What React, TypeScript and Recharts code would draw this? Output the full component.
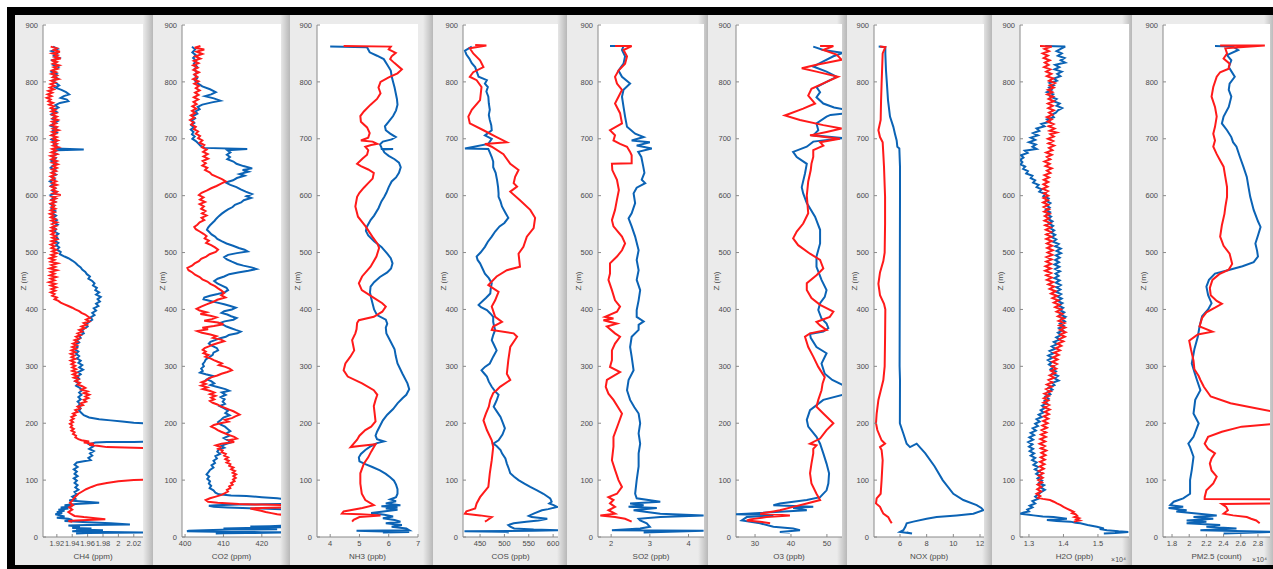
import { ScatterChart, Scatter, XAxis, YAxis, Label } from 'recharts'

// each profile is a list of [value, altitude z (m)]
const zTicks = [0, 100, 200, 300, 400, 500, 600, 700, 800, 900]

const ch4Ticks = [1.92, 1.94, 1.96, 1.98, 2, 2.02]
const co2Ticks = [400, 410, 420]
const nh3Ticks = [4, 5, 6, 7]
const cosTicks = [450, 500, 550, 600]
const so2Ticks = [2, 3, 4]
const o3Ticks = [30, 40, 50]
const noxTicks = [6, 8, 10, 12]
const h2oTicks = [1.3, 1.4, 1.5]
const pmTicks = [1.8, 2, 2.2, 2.4, 2.6, 2.8]

const ch4Blue = [[1.915,862],[1.921,858],[1.913,854],[1.92,850],[1.916,846],[1.923,842],[1.914,838],[1.919,834],[1.915,830],[1.922,826],[1.917,822],[1.913,818],[1.92,814],[1.916,810],[1.921,806],[1.914,802],[1.919,798],[1.923,794],[1.918,790],[1.926,786],[1.932,782],[1.936,778],[1.929,775],[1.925,772],[1.933,769],[1.935,766],[1.924,763],[1.918,759],[1.922,755],[1.915,751],[1.92,747],[1.913,743],[1.918,739],[1.914,735],[1.921,731],[1.916,727],[1.912,723],[1.919,719],[1.915,715],[1.92,711],[1.914,707],[1.918,703],[1.913,699],[1.919,695],[1.916,691],[1.92,687],[1.918,683],[1.955,681],[1.921,680],[1.915,677],[1.92,673],[1.914,669],[1.918,665],[1.913,661],[1.919,657],[1.915,653],[1.912,649],[1.918,645],[1.914,641],[1.919,637],[1.913,633],[1.917,629],[1.911,625],[1.916,621],[1.912,617],[1.918,613],[1.914,609],[1.919,605],[1.912,601],[1.917,597],[1.913,593],[1.918,589],[1.912,585],[1.916,581],[1.913,577],[1.918,573],[1.914,569],[1.919,565],[1.915,561],[1.92,557],[1.916,553],[1.921,549],[1.915,545],[1.919,541],[1.917,537],[1.922,533],[1.918,529],[1.921,525],[1.917,521],[1.922,517],[1.919,513],[1.923,509],[1.92,505],[1.925,501],[1.924,497],[1.93,493],[1.935,490],[1.94,486],[1.944,482],[1.947,478],[1.951,474],[1.953,470],[1.957,466],[1.959,462],[1.963,458],[1.961,454],[1.966,450],[1.969,446],[1.967,442],[1.972,438],[1.97,434],[1.975,430],[1.971,426],[1.977,422],[1.973,418],[1.976,414],[1.971,410],[1.974,406],[1.968,402],[1.971,398],[1.966,394],[1.969,390],[1.964,386],[1.966,382],[1.962,378],[1.958,374],[1.96,370],[1.955,366],[1.953,362],[1.955,358],[1.949,354],[1.951,350],[1.946,346],[1.949,342],[1.944,338],[1.947,334],[1.943,330],[1.948,326],[1.945,322],[1.949,318],[1.946,314],[1.951,310],[1.948,306],[1.953,302],[1.949,298],[1.954,294],[1.948,290],[1.951,286],[1.946,282],[1.949,278],[1.944,274],[1.948,270],[1.945,266],[1.95,262],[1.953,258],[1.949,254],[1.952,250],[1.948,246],[1.951,242],[1.947,238],[1.95,234],[1.948,230],[1.951,226],[1.949,222],[1.952,218],[1.955,214],[1.962,210],[1.975,207],[1.99,205],[2.005,203],[2.02,201],[2.04,199],[2.04,168],[2.02,167],[2,167],[1.985,167],[1.97,166],[1.962,163],[1.967,159],[1.962,155],[1.968,151],[1.963,147],[1.966,143],[1.961,139],[1.964,135],[1.955,133],[1.946,131],[1.943,127],[1.947,123],[1.942,119],[1.946,115],[1.943,111],[1.947,107],[1.942,103],[1.946,99],[1.943,95],[1.947,91],[1.944,87],[1.948,83],[1.943,79],[1.946,75],[1.94,71],[1.944,67],[1.936,64],[1.958,62],[1.975,60],[1.945,58],[1.93,56],[1.94,54],[1.925,52],[1.935,50],[1.922,48],[1.93,46],[1.92,44],[1.927,42],[1.918,40],[1.924,38],[1.93,36],[1.92,34],[1.935,32],[1.94,30],[1.93,28],[1.96,26],[1.99,24],[2.015,22],[1.96,21],[1.935,20],[1.95,18],[1.94,16],[1.965,15],[1.945,13],[1.98,12],[1.95,11],[1.94,10],[1.985,9],[2.035,8],[1.96,7],[1.945,6]]
const ch4Red = [[1.912,862],[1.92,859],[1.916,856],[1.924,853],[1.914,850],[1.921,847],[1.917,844],[1.925,841],[1.913,838],[1.92,835],[1.915,832],[1.923,829],[1.916,826],[1.921,823],[1.914,820],[1.919,817],[1.913,814],[1.92,811],[1.915,808],[1.922,805],[1.913,802],[1.918,799],[1.912,796],[1.917,793],[1.911,790],[1.916,787],[1.909,784],[1.914,781],[1.908,778],[1.913,775],[1.907,772],[1.912,769],[1.909,766],[1.915,763],[1.91,760],[1.916,757],[1.912,754],[1.918,751],[1.913,748],[1.919,745],[1.914,742],[1.92,739],[1.915,736],[1.921,733],[1.914,730],[1.919,727],[1.913,724],[1.92,721],[1.915,718],[1.922,715],[1.914,712],[1.919,709],[1.913,706],[1.92,703],[1.915,700],[1.921,697],[1.914,694],[1.92,691],[1.915,688],[1.922,685],[1.914,682],[1.919,679],[1.913,676],[1.92,673],[1.912,670],[1.918,667],[1.913,664],[1.92,661],[1.914,658],[1.921,655],[1.915,652],[1.92,649],[1.914,646],[1.919,643],[1.913,640],[1.918,637],[1.912,634],[1.917,631],[1.913,628],[1.919,625],[1.914,622],[1.92,619],[1.913,616],[1.918,613],[1.914,610],[1.92,607],[1.915,604],[1.925,601],[1.914,598],[1.919,595],[1.913,592],[1.918,589],[1.912,586],[1.917,583],[1.913,580],[1.918,577],[1.912,574],[1.917,571],[1.911,568],[1.916,565],[1.912,562],[1.918,559],[1.913,556],[1.92,553],[1.914,550],[1.919,547],[1.913,544],[1.918,541],[1.912,538],[1.917,535],[1.913,532],[1.919,529],[1.914,526],[1.92,523],[1.913,520],[1.918,517],[1.912,514],[1.917,511],[1.913,508],[1.919,505],[1.914,502],[1.92,499],[1.913,496],[1.918,493],[1.911,490],[1.917,487],[1.912,484],[1.921,481],[1.913,478],[1.918,475],[1.911,472],[1.92,469],[1.912,466],[1.917,463],[1.911,460],[1.919,457],[1.912,454],[1.917,451],[1.91,448],[1.918,445],[1.912,442],[1.919,439],[1.913,436],[1.918,433],[1.912,430],[1.917,427],[1.914,424],[1.92,421],[1.917,418],[1.922,415],[1.925,412],[1.93,409],[1.935,406],[1.94,403],[1.944,400],[1.949,397],[1.952,394],[1.957,391],[1.96,388],[1.963,385],[1.958,382],[1.962,379],[1.955,376],[1.959,373],[1.952,370],[1.956,367],[1.949,364],[1.953,361],[1.947,358],[1.951,355],[1.945,352],[1.949,349],[1.943,346],[1.947,343],[1.941,340],[1.946,337],[1.94,334],[1.945,331],[1.939,328],[1.944,325],[1.938,322],[1.943,319],[1.939,316],[1.944,313],[1.938,310],[1.943,307],[1.939,304],[1.944,301],[1.94,298],[1.945,295],[1.94,292],[1.946,289],[1.941,286],[1.947,283],[1.942,280],[1.948,277],[1.944,274],[1.95,271],[1.947,268],[1.953,265],[1.957,262],[1.952,259],[1.96,256],[1.955,253],[1.962,250],[1.957,247],[1.961,244],[1.955,241],[1.958,238],[1.951,235],[1.954,232],[1.947,229],[1.95,226],[1.944,223],[1.947,220],[1.941,217],[1.944,214],[1.939,211],[1.942,208],[1.938,205],[1.941,202],[1.937,199],[1.94,196],[1.938,193],[1.942,190],[1.939,187],[1.943,184],[1.941,181],[1.945,178],[1.944,175],[1.948,172],[1.952,170],[1.962,168],[1.955,166],[1.968,164],[1.962,162],[1.975,160],[1.985,158],[2.04,156],[2.04,101],[2.02,100],[2,98],[1.985,95],[1.973,92],[1.965,88],[1.958,84],[1.953,80],[1.948,76],[1.945,72],[1.942,68],[1.94,64],[1.937,60],[1.941,56],[1.936,52],[1.94,48],[1.935,44],[1.939,40],[1.943,37],[1.955,35],[1.97,33],[1.983,31],[1.96,30],[1.945,29],[1.935,28],[1.94,27]]

const co2Blue = [[401.8,862],[402.6,857],[401.9,852],[402.8,847],[402.1,842],[402.9,837],[402.3,832],[403.1,827],[402.4,822],[403,817],[402.5,812],[403.2,807],[402.6,802],[403.4,797],[404.5,792],[406.5,787],[408,782],[406.8,778],[405.2,775],[407.5,771],[409.2,767],[407,764],[404.5,760],[403.3,756],[403.8,752],[402.7,748],[403.2,744],[402,740],[402.6,736],[401.7,732],[402.4,728],[401.6,724],[402.3,720],[401.5,716],[402.2,712],[401.8,708],[402.5,704],[401.9,700],[402.8,696],[403.4,692],[404,688],[405,684],[416.2,682],[411,680],[411.8,676],[410.9,672],[411.7,668],[411,664],[412.6,660],[413.4,656],[415.2,652],[417.5,648],[415,645],[416.5,642],[414.2,638],[415.5,635],[413.5,631],[412.5,627],[410.6,623],[411.8,619],[413.4,615],[414.5,611],[415.8,607],[417.4,603],[416,599],[417.2,596],[415.3,592],[414.6,588],[413,584],[412.4,580],[411.2,576],[410.3,572],[409.5,568],[408.8,564],[408.2,560],[407.7,556],[407.1,552],[406.5,548],[406,544],[405.7,540],[406.3,536],[406.9,532],[407.8,528],[408.4,524],[409.5,520],[410.8,516],[412.5,512],[414,508],[415.5,505],[416.3,502],[413.5,499],[411.2,496],[410.2,492],[410.9,488],[412.2,484],[413.6,480],[415.2,477],[417.3,474],[418.6,471],[416.5,468],[413.8,465],[411.5,462],[410.2,458],[408.5,454],[407.6,450],[408.4,446],[409.6,442],[410.8,438],[411.2,434],[410.3,430],[408.5,427],[406.5,424],[405,421],[404.8,418],[406.6,415],[408.4,412],[410.2,409],[411.8,406],[413.2,403],[412.2,400],[410.2,397],[409.5,394],[411,391],[412,388],[413.4,385],[412.6,382],[410.3,379],[409,376],[410,373],[410.8,370],[412,367],[413.2,364],[414.5,361],[413.6,358],[411.4,355],[410.6,352],[408.9,349],[407.8,346],[406.6,343],[406.2,340],[407.1,336],[408.3,332],[408.6,328],[407.4,324],[407.2,320],[406.3,316],[405.4,312],[405.1,308],[404.6,304],[404.9,300],[404.2,296],[404.6,292],[403.9,289],[405.4,286],[407.2,283],[406.5,280],[405.7,277],[406.8,274],[407.6,270],[406.6,267],[408.2,264],[410.5,260],[411.5,257],[409.6,254],[410.6,250],[409.3,246],[410.3,242],[409.8,238],[410.4,234],[409,230],[410.2,226],[411.2,222],[410.5,218],[411.6,214],[410,210],[409.4,206],[408.6,202],[409.2,198],[410.4,194],[411.1,190],[411.8,186],[410.8,182],[411.5,178],[410.1,174],[411.2,170],[411.8,166],[410.4,163],[409.4,160],[410.2,157],[408.8,154],[408.4,150],[409.1,146],[407.9,142],[408.3,138],[407.4,134],[407.8,130],[406.9,126],[407.4,122],[406.5,118],[406.1,114],[405.6,110],[406.3,106],[405.8,102],[406.5,98],[406.2,94],[406.8,90],[406.4,86],[407.4,82],[407.9,78],[408.8,75],[412,73],[416,72],[420,70],[424,68],[427,66],[427,58],[421,57.5],[414,57],[408,56],[406.2,55],[407.5,53],[411,52],[415,51],[420,50],[427,48],[427,20],[422,19],[417,18.5],[425,17],[416,16],[410,15],[418,14],[424,13.5],[412,13],[405,12],[401,11],[400.5,10],[404,9.5],[412,9],[420,8.5],[427,8],[416,7],[410,6.5],[408,6]]
const co2Red = [[404,863],[402.5,860],[405,857],[403,853],[404.5,849],[402.7,845],[404,841],[402.3,837],[403.5,833],[402.1,829],[403.3,825],[402.2,821],[403.6,817],[402.4,813],[403.2,809],[402.1,805],[403.5,801],[402.4,797],[403.6,793],[402.8,789],[403.8,785],[402.6,781],[403.5,777],[402.3,773],[403.4,769],[402.2,765],[403,761],[401.9,757],[402.9,753],[401.8,749],[402.6,745],[401.5,741],[402.4,737],[401.3,733],[402.2,729],[401.6,725],[402.8,721],[402.3,717],[403.4,713],[402.8,709],[403.9,705],[403.4,701],[404.5,697],[403.8,693],[405,689],[404.4,685],[405.6,681],[404.7,677],[405.9,673],[404.8,669],[406,665],[404.6,661],[405.4,657],[404.5,653],[405.8,649],[405.2,645],[406.4,641],[407,637],[408.3,633],[409.6,629],[410.6,625],[409.4,621],[408.2,617],[406.8,613],[405.6,609],[404.3,605],[403.6,601],[404.8,597],[403.9,593],[405.2,589],[403.8,585],[404.9,581],[404.2,577],[405.3,573],[404.4,569],[405.6,565],[404.3,561],[405,557],[403.8,553],[403.2,549],[402.4,545],[402.8,541],[403.8,537],[404.8,533],[405.6,529],[405.1,525],[406.2,521],[405.5,517],[406.8,513],[407.8,509],[408.6,505],[408,501],[406.4,497],[405.5,493],[404.2,489],[403.6,485],[402.5,481],[401.8,477],[400.6,473],[400.9,469],[401.9,465],[402.6,461],[403.8,457],[404.5,453],[405.8,449],[406.6,445],[407.8,441],[408.6,437],[409.5,433],[410.2,429],[409.4,425],[410.5,421],[408.4,417],[407.2,413],[405.6,409],[404.2,405],[403,401],[403.8,398],[405.6,395],[404,392],[406.6,389],[408.2,386],[407,383],[405,380],[408.6,377],[410,374],[407.5,371],[404.5,368],[406,365],[403.2,362],[404.4,359],[406.6,356],[408.2,353],[407.3,350],[409.4,347],[410.2,344],[408.6,341],[407.2,338],[406.2,335],[405.1,332],[404.6,329],[405.4,326],[404.8,323],[406.1,320],[405.3,317],[406.6,314],[407.5,311],[408.5,308],[409.6,305],[408.8,302],[410.5,299],[411.6,296],[412.2,293],[411,290],[409.5,287],[408.4,284],[407,281],[406,278],[405.5,275],[404.3,272],[405.4,269],[404.2,266],[405.8,263],[404.6,260],[406.4,257],[407.6,254],[406.5,251],[407.9,248],[406.8,245],[407.6,242],[406.5,239],[407.2,236],[408.4,233],[409.2,230],[410.4,227],[411.5,224],[412.6,221],[413.4,218],[414.2,215],[413.1,212],[412.2,209],[410.4,206],[411.3,203],[409.2,200],[407.5,197],[406.8,194],[407.8,191],[408.5,188],[409.4,185],[410.5,182],[411.6,179],[412.8,176],[413.5,173],[411.5,170],[412.8,167],[409.5,164],[408,161],[409.2,158],[408.6,155],[409.8,152],[409.5,149],[410.6,146],[410.2,143],[411.2,140],[410.5,137],[411.4,134],[410.8,131],[411.8,128],[411.5,125],[412.6,122],[412,119],[413,116],[412.4,113],[413.3,110],[412.6,107],[413.2,104],[412.5,101],[412.9,98],[412,95],[412.4,92],[411.5,89],[411.8,86],[410.9,83],[411.2,80],[410.4,77],[409.5,74],[408,71],[406.5,68],[405.4,65],[406,62],[408.5,60],[414,58],[420,57],[427,56],[427,52],[420,51],[417,50],[418.5,48],[419.8,46],[421,44],[422.5,42],[424,40],[427,38]]

const nh3Blue = [[4,862],[5.26,861],[5.3,857],[5.35,852],[5.6,846],[5.83,840],[5.95,830],[6.07,820],[6.1,810],[6.15,800],[6.2,790],[6.24,780],[6.28,770],[6.3,760],[6.25,750],[6.15,740],[6,730],[5.87,722],[5.9,715],[6.05,709],[6.24,703],[6.1,699],[5.8,695],[5.7,690],[5.75,685],[5.76,682],[6.15,682],[5.8,681],[5.85,676],[6,670],[6.2,664],[6.35,658],[6.41,650],[6.35,640],[6.25,632],[6.1,625],[6,615],[5.92,605],[5.85,598],[5.75,590],[5.65,578],[5.5,565],[5.38,557],[5.25,545],[5.22,538],[5.3,530],[5.5,520],[5.75,510],[5.95,498],[6.07,490],[6.13,481],[6.08,472],[5.95,465],[5.7,457],[5.5,448],[5.38,440],[5.36,430],[5.4,420],[5.45,410],[5.5,400],[5.6,390],[5.9,382],[5.95,375],[5.9,368],[5.92,358],[6.05,345],[6.2,330],[6.24,318],[6.3,305],[6.47,287],[6.64,270],[6.7,260],[6.6,250],[6.47,244],[6.3,235],[6.15,225],[5.95,215],[5.8,205],[5.7,195],[5.6,185],[5.55,178],[5.6,172],[5.84,168],[5.6,165],[5.4,160],[5.2,153],[5.05,146],[4.98,140],[5,133],[5.2,128],[5.44,123],[5.7,117],[5.9,111],[6.05,105],[6.18,99],[6.25,92],[6.3,84],[6.3,76],[6.25,70],[6.05,66],[6.25,63],[5.9,59],[6.4,56],[5.75,54],[6.3,52],[5.9,50],[6.3,48],[5.4,42],[5.85,39],[6.15,36],[5.8,33],[6.2,30],[6.4,27],[5.9,24],[6.45,21],[6.1,18],[6.6,15],[6.7,12],[4.9,11],[5.5,10],[6.7,9],[5.8,8]]
const nh3Red = [[4.46,863],[6.07,862],[6,857],[6.24,851],[6.1,845],[6.05,840],[6.2,833],[6.45,822],[6.3,815],[6,808],[5.72,800],[5.65,790],[5.72,780],[5.6,770],[5.38,760],[5.15,748],[5.03,740],[5.05,730],[5.26,720],[5.35,710],[5.3,702],[5.05,697],[5.45,695],[5.61,691],[5.4,689],[5.2,686],[5.3,680],[5.26,672],[5.1,665],[4.92,656],[5.05,652],[5.3,646],[5.49,640],[5.45,630],[5.3,622],[5.15,614],[5,605],[4.92,598],[4.86,581],[4.95,563],[5.21,546],[5.44,528],[5.62,515],[5.67,508],[5.58,493],[5.38,475],[5.09,458],[4.98,446],[5.08,434],[5.44,422],[5.78,411],[5.9,405],[5.78,396],[5.49,387],[4.98,381],[4.92,376],[4.9,365],[4.86,358],[4.75,346],[4.82,328],[4.69,317],[4.52,305],[4.46,293],[4.6,282],[5.09,270],[5.49,258],[5.61,250],[5.55,241],[5.49,230],[5.52,217],[5.55,203],[5.4,194],[5.2,188],[5,178],[4.92,171],[4.7,158],[5,160],[5.55,163],[5.4,150],[5.3,140],[5.15,129],[5.03,112],[5.03,94],[5.08,76],[5.2,65],[5.49,56],[5.1,51],[4.46,45],[4.4,41],[5.03,40],[5.72,38],[5,35],[4.8,30],[4.75,27]]

const cosBlue = [[433,862],[419,855],[422,848],[428,841],[433,833],[440,826],[447,809],[464,803],[460,797],[466,791],[463,783],[467,774],[468,762],[470,751],[468,742],[470,733],[473,724],[474,715],[460,706],[474,700],[467,691],[419,683],[467,682],[470,676],[474,668],[477,660],[477,650],[482,640],[485,627],[487,615],[488,604],[488,598],[492,590],[495,581],[502,570],[508,561],[500,552],[490,546],[481,537],[474,528],[466,519],[460,510],[451,500],[443,493],[445,487],[450,481],[455,472],[460,463],[468,455],[474,446],[472,437],[471,428],[462,420],[457,416],[447,408],[452,404],[464,399],[471,393],[477,387],[477,378],[479,370],[481,364],[477,355],[474,346],[479,337],[484,328],[477,317],[470,305],[460,299],[453,293],[459,287],[464,282],[468,273],[474,264],[481,256],[488,250],[484,240],[478,229],[485,220],[492,211],[497,200],[501,191],[496,180],[488,170],[477,164],[484,160],[492,153],[495,147],[502,138],[505,129],[509,120],[512,112],[520,106],[529,100],[541,94],[553,88],[567,82],[580,76],[594,68],[597,62],[592,59],[601,56],[608,53],[590,49],[577,47],[560,41],[550,37],[556,35],[588,32],[570,29],[545,27],[519,24],[508,21],[512,18],[520,15],[560,13],[612,12],[560,11],[418,10],[500,9],[509,8]]
const cosRed = [[440,865],[463,864],[429,859],[436,850],[450,838],[457,826],[436,817],[429,809],[443,803],[453,791],[450,768],[433,751],[426,739],[429,727],[457,715],[484,703],[505,694],[460,691],[474,686],[498,673],[512,656],[529,645],[522,633],[519,622],[526,616],[512,607],[532,592],[553,575],[563,561],[560,543],[546,528],[539,510],[529,498],[532,475],[505,469],[484,458],[467,443],[488,431],[481,416],[474,405],[481,387],[495,378],[477,370],[474,364],[519,358],[526,352],[512,334],[508,311],[505,287],[512,276],[491,264],[484,258],[477,253],[471,241],[468,229],[462,217],[457,205],[464,188],[474,170],[477,158],[474,135],[470,112],[467,88],[450,70],[443,59],[440,50],[422,45],[419,41],[450,38],[474,35],[464,29],[460,27]]

const so2Blue = [[1.97,863],[2.32,863],[2.28,856],[2.36,845],[2.32,832],[2.19,820],[2.28,809],[2.49,797],[2.32,786],[2.28,774],[2.32,756],[2.36,739],[2.41,721],[2.62,709],[2.84,703],[2.53,697],[3,694],[2.66,688],[3.05,683],[2.7,677],[2.78,668],[2.83,651],[2.86,640],[2.79,628],[2.88,622],[2.66,614],[2.58,604],[2.62,587],[2.53,569],[2.45,560],[2.53,546],[2.62,528],[2.71,504],[2.66,487],[2.71,469],[2.66,452],[2.75,434],[2.71,416],[2.66,399],[2.66,387],[2.84,379],[2.71,373],[2.71,364],[2.53,352],[2.49,334],[2.53,317],[2.58,293],[2.45,276],[2.41,258],[2.49,241],[2.6,228],[2.71,217],[2.75,200],[2.71,182],[2.75,164],[2.71,147],[2.71,124],[2.66,100],[2.62,76],[2.66,68],[3.27,62],[2.49,59],[2.84,56],[2.45,53],[3.18,51],[2.58,47],[3.27,41],[4.39,38],[3.27,35],[2.71,32],[2.75,29],[2.92,24],[3,18],[2.75,15],[2.02,12],[4.39,11],[2.84,8]]
const so2Red = [[2.1,863],[2.53,863],[2.32,856],[2.41,845],[2.36,832],[2.19,820],[2.1,809],[2.15,797],[2.28,786],[2.19,774],[2.1,762],[2.23,745],[2.28,727],[1.97,715],[2.1,706],[2.06,697],[2.23,691],[2.41,686],[2.49,677],[2.53,671],[2.53,657],[2.02,656],[2.03,645],[2.15,628],[2.2,610],[2.15,593],[2.1,575],[2.02,557],[2.06,546],[2.28,528],[2.36,516],[2.28,504],[2.15,493],[1.97,481],[1.97,463],[1.93,452],[2.02,434],[2.1,416],[2.23,405],[2.15,396],[1.84,387],[2.06,384],[1.8,381],[2.15,375],[1.89,370],[2.1,358],[2.23,352],[2.1,340],[2.02,328],[2.02,311],[1.97,299],[2.23,290],[1.89,276],[1.86,264],[1.93,252],[2.06,241],[2.28,217],[2.19,200],[2.06,176],[2.06,159],[2.02,135],[2.1,118],[2.19,100],[2.28,88],[2.15,76],[1.93,70],[2.06,65],[1.97,59],[2.1,53],[1.93,47],[2.1,41],[1.72,38],[2.1,35],[2.36,32],[2.53,27]]

const o3Blue = [[46.2,862],[49,856],[54.5,851],[51.8,845],[49,836],[46.2,827],[49.9,818],[52.7,809],[49.9,800],[47.1,791],[48.1,782],[47.1,773],[49,762],[52,755],[56,750],[56,745],[51,742],[49.9,739],[47.1,727],[47.6,715],[46.2,706],[54.5,701],[46.2,695],[44.4,686],[40.6,677],[41.6,668],[44.4,656],[43.9,639],[43,615],[43.4,604],[44.4,587],[46.7,563],[48.1,540],[48.1,516],[47.1,493],[47.1,475],[48.5,452],[49.9,434],[49.4,422],[48.1,411],[47.6,399],[48.5,384],[49.9,375],[50.4,367],[49,361],[45.3,357],[45.5,350],[47.1,334],[49.9,323],[48.5,305],[49.4,287],[51.5,276],[54.5,267],[56,262],[56,252],[54.5,250],[49,241],[45.3,223],[44.4,206],[44.8,194],[47.1,176],[48.1,164],[49,147],[49.9,129],[50.6,112],[50.4,94],[49.9,82],[48.1,70],[44.4,65],[36.9,59],[35.1,56],[46.2,53],[40.6,51],[44.4,47],[27.7,41],[24.5,40],[35.1,38],[27.7,35],[26.3,29],[31.4,24],[35.1,18],[40.6,15],[42.5,12],[36.9,9],[39.7,8]]
const o3Red = [[48.1,863],[51.8,863],[49,856],[52.7,848],[54.1,839],[47.1,830],[43,824],[47.1,818],[53.1,809],[49.9,800],[45.7,788],[44.8,776],[46.7,762],[43.4,753],[38.3,741],[42.5,733],[49,724],[54.1,718],[49.9,712],[45.3,706],[53.6,700],[48.1,694],[49,688],[46.2,680],[46.2,668],[45.7,656],[45.5,645],[44.8,625],[44.4,600],[44.8,569],[43.4,551],[41.6,537],[40.6,525],[42,513],[45.3,498],[48.1,487],[49,472],[47.1,460],[44.4,446],[44.4,434],[45.7,420],[48.1,408],[51.8,396],[50.8,387],[47.1,378],[48.1,372],[49.9,364],[45.3,358],[43.9,352],[44.8,334],[46.2,317],[47.6,299],[49.4,281],[48.8,270],[48.5,258],[47.6,241],[47.1,229],[49,217],[51.8,200],[49.9,188],[48.1,173],[45.3,164],[47.1,161],[46.2,155],[46.2,147],[45.7,129],[45.3,112],[45.7,94],[47.1,76],[48.1,65],[44.4,59],[40.6,53],[36.9,47],[35.1,45],[31.4,41],[39.7,38],[33.2,35],[28.6,31],[27.7,29],[31.4,27],[34.2,24]]

const noxBlue = [[4.4,862],[4.9,861],[4.9,850],[4.95,820],[5,803],[5.1,768],[5.25,739],[5.5,721],[5.62,709],[5.75,697],[5.8,686],[5.95,683],[6,651],[6,598],[5.99,500],[5.98,400],[5.97,300],[6,276],[5.99,200],[6.25,182],[6.5,164],[6.75,158],[7.25,164],[7.9,147],[8.6,124],[9.2,100],[10,76],[10.75,65],[11.75,56],[12.1,51],[12.25,47],[11.5,41],[10.25,38],[8.75,35],[8,32],[7,27],[6.5,24],[6.4,18],[6.25,12],[6,9],[6.9,6],[6.5,8]]
const noxRed = [[4.5,862],[4.9,861],[4.7,850],[4.62,797],[4.58,768],[4.55,733],[4.38,715],[4.5,703],[4.7,694],[4.75,673],[4.8,651],[4.88,598],[4.88,550],[4.85,500],[4.75,485],[4.5,465],[4.38,445],[4.5,425],[4.8,410],[4.9,400],[4.88,350],[4.85,300],[4.75,276],[4.38,241],[4.25,217],[4.2,200],[4.3,188],[4.62,170],[4.88,164],[4.5,158],[4.62,153],[4.7,135],[4.62,100],[4.55,76],[4.25,68],[4.2,59],[4.5,53],[4.62,47],[4.75,41],[5.12,35],[5.25,29],[5.38,24]]

const h2oBlue = [[1.347,863],[1.405,862],[1.392,858],[1.38,854],[1.395,850],[1.384,846],[1.403,842],[1.392,838],[1.405,834],[1.376,830],[1.388,826],[1.374,822],[1.395,818],[1.382,814],[1.391,810],[1.372,806],[1.381,802],[1.36,798],[1.372,794],[1.358,790],[1.366,786],[1.352,782],[1.37,778],[1.362,774],[1.38,770],[1.371,766],[1.389,762],[1.38,758],[1.396,754],[1.384,750],[1.378,746],[1.366,742],[1.372,738],[1.352,734],[1.36,730],[1.336,726],[1.345,722],[1.322,718],[1.33,714],[1.312,710],[1.326,706],[1.305,702],[1.318,698],[1.3,694],[1.32,690],[1.31,686],[1.322,682],[1.288,679],[1.296,675],[1.277,671],[1.284,667],[1.274,663],[1.281,659],[1.276,655],[1.289,651],[1.283,647],[1.297,643],[1.292,639],[1.31,635],[1.305,631],[1.318,627],[1.312,623],[1.328,619],[1.322,615],[1.337,611],[1.33,607],[1.348,603],[1.342,599],[1.357,595],[1.35,591],[1.362,587],[1.351,583],[1.36,579],[1.349,575],[1.361,571],[1.352,567],[1.364,563],[1.355,559],[1.368,555],[1.358,551],[1.37,547],[1.361,543],[1.373,539],[1.364,535],[1.376,531],[1.366,527],[1.379,523],[1.37,519],[1.386,515],[1.376,511],[1.392,507],[1.38,503],[1.393,499],[1.378,495],[1.389,491],[1.376,487],[1.387,483],[1.374,479],[1.388,475],[1.376,471],[1.39,467],[1.377,463],[1.386,459],[1.374,455],[1.389,451],[1.378,447],[1.392,443],[1.38,439],[1.391,435],[1.379,431],[1.393,427],[1.382,423],[1.395,419],[1.383,415],[1.397,411],[1.386,407],[1.399,403],[1.389,399],[1.402,395],[1.391,391],[1.406,387],[1.394,383],[1.404,379],[1.39,375],[1.401,371],[1.387,367],[1.398,363],[1.384,359],[1.393,355],[1.379,351],[1.389,347],[1.372,343],[1.382,339],[1.366,335],[1.376,331],[1.36,327],[1.371,323],[1.356,319],[1.368,315],[1.355,311],[1.366,307],[1.358,303],[1.372,299],[1.363,295],[1.378,291],[1.368,287],[1.384,283],[1.374,279],[1.386,275],[1.368,271],[1.374,267],[1.358,263],[1.368,259],[1.355,255],[1.362,251],[1.348,247],[1.357,243],[1.345,239],[1.352,235],[1.338,231],[1.347,227],[1.334,223],[1.342,219],[1.328,215],[1.337,211],[1.322,207],[1.331,203],[1.318,199],[1.326,195],[1.311,191],[1.32,187],[1.305,183],[1.315,179],[1.301,175],[1.312,171],[1.298,167],[1.31,163],[1.3,159],[1.312,155],[1.302,151],[1.315,147],[1.305,143],[1.318,139],[1.309,135],[1.322,131],[1.313,127],[1.326,123],[1.317,119],[1.33,115],[1.321,111],[1.334,107],[1.325,103],[1.338,99],[1.329,95],[1.344,91],[1.333,87],[1.346,83],[1.335,79],[1.328,75],[1.318,71],[1.326,67],[1.31,63],[1.318,59],[1.302,55],[1.31,52],[1.295,48],[1.3,45],[1.285,43],[1.275,41],[1.3,39],[1.313,38],[1.34,36],[1.371,35],[1.41,32],[1.352,30],[1.38,28],[1.42,27],[1.435,25],[1.449,24],[1.47,21],[1.497,18],[1.517,15],[1.505,14],[1.526,12],[1.56,10],[1.588,9],[1.55,7],[1.517,6]]
const h2oRed = [[1.332,863],[1.366,862],[1.345,858],[1.358,854],[1.34,850],[1.355,846],[1.343,842],[1.36,838],[1.346,834],[1.357,830],[1.344,826],[1.362,822],[1.35,818],[1.365,814],[1.352,810],[1.37,806],[1.358,802],[1.375,798],[1.36,794],[1.372,790],[1.355,786],[1.368,782],[1.353,778],[1.37,774],[1.357,770],[1.372,766],[1.355,762],[1.369,758],[1.356,754],[1.372,750],[1.358,746],[1.368,742],[1.352,738],[1.366,734],[1.354,730],[1.371,726],[1.357,722],[1.374,718],[1.36,714],[1.38,711],[1.362,708],[1.372,704],[1.355,700],[1.37,696],[1.356,692],[1.373,688],[1.358,684],[1.368,680],[1.35,676],[1.366,672],[1.352,668],[1.362,664],[1.345,660],[1.36,656],[1.348,652],[1.366,648],[1.352,644],[1.362,640],[1.345,636],[1.358,632],[1.343,628],[1.356,624],[1.342,620],[1.354,616],[1.34,612],[1.355,608],[1.343,604],[1.356,600],[1.342,596],[1.355,592],[1.341,588],[1.356,584],[1.343,580],[1.358,576],[1.344,572],[1.36,568],[1.346,564],[1.358,560],[1.345,556],[1.362,552],[1.347,548],[1.363,544],[1.349,540],[1.364,536],[1.35,532],[1.365,528],[1.35,524],[1.366,520],[1.352,516],[1.367,512],[1.353,508],[1.369,504],[1.354,500],[1.368,496],[1.351,492],[1.366,488],[1.35,484],[1.364,480],[1.348,476],[1.363,472],[1.347,468],[1.364,464],[1.35,460],[1.366,456],[1.352,452],[1.37,448],[1.356,444],[1.373,440],[1.36,436],[1.377,432],[1.364,428],[1.381,424],[1.368,420],[1.385,416],[1.372,412],[1.389,408],[1.376,404],[1.393,400],[1.38,396],[1.397,392],[1.384,388],[1.401,384],[1.386,380],[1.403,376],[1.388,372],[1.405,368],[1.39,364],[1.406,360],[1.391,356],[1.404,352],[1.388,348],[1.4,344],[1.383,340],[1.394,336],[1.378,332],[1.39,328],[1.373,324],[1.386,320],[1.37,316],[1.383,312],[1.368,308],[1.381,304],[1.366,300],[1.379,296],[1.364,292],[1.376,288],[1.36,284],[1.373,280],[1.357,276],[1.368,272],[1.352,268],[1.366,264],[1.35,260],[1.363,256],[1.345,252],[1.358,248],[1.343,244],[1.356,240],[1.342,236],[1.358,232],[1.344,228],[1.36,224],[1.346,220],[1.358,216],[1.343,212],[1.356,208],[1.341,204],[1.354,200],[1.339,196],[1.352,192],[1.337,188],[1.35,184],[1.335,180],[1.349,176],[1.333,172],[1.347,168],[1.331,164],[1.346,160],[1.334,156],[1.35,152],[1.336,148],[1.348,144],[1.334,140],[1.346,136],[1.332,132],[1.345,128],[1.331,124],[1.343,120],[1.329,116],[1.341,112],[1.328,108],[1.34,104],[1.327,100],[1.338,96],[1.325,92],[1.336,88],[1.324,84],[1.335,80],[1.322,76],[1.333,72],[1.326,69],[1.34,67],[1.361,65],[1.372,62],[1.381,59],[1.392,56],[1.4,53],[1.41,50],[1.42,47],[1.43,44],[1.425,42],[1.435,40],[1.44,37],[1.432,35],[1.445,33],[1.438,31],[1.447,29],[1.43,27]]

const pmBlue = [[2.3,863],[2.51,862],[2.57,856],[2.44,847],[2.49,838],[2.46,826],[2.53,809],[2.47,797],[2.46,786],[2.49,774],[2.46,756],[2.4,739],[2.38,727],[2.44,715],[2.49,703],[2.51,694],[2.55,686],[2.59,668],[2.63,651],[2.67,633],[2.69,615],[2.71,598],[2.75,575],[2.8,555],[2.83,545],[2.8,530],[2.77,516],[2.79,503],[2.8,493],[2.75,483],[2.62,476],[2.45,469],[2.3,463],[2.23,452],[2.2,440],[2.22,425],[2.26,411],[2.22,400],[2.15,388],[2.12,370],[2.1,352],[2.06,330],[2.03,305],[2.06,290],[2.09,276],[2.13,258],[2.07,241],[2.05,217],[2.11,200],[2.05,176],[1.99,164],[2.01,158],[2.05,141],[2.03,118],[2.01,100],[2.01,76],[1.93,68],[1.82,62],[1.78,56],[1.93,53],[1.76,51],[1.97,47],[1.85,45],[2.32,38],[2.05,35],[2.28,32],[1.97,29],[2.2,27],[1.97,24],[2.36,21],[2.2,18],[2.55,15],[2.13,12],[2.96,9],[2.4,6]]
const pmRed = [[2.36,864],[2.88,864],[2.42,859],[2.44,850],[2.4,841],[2.47,832],[2.46,823],[2.36,817],[2.32,809],[2.28,791],[2.26,774],[2.3,756],[2.32,739],[2.3,721],[2.28,709],[2.3,697],[2.28,686],[2.32,673],[2.36,662],[2.4,651],[2.42,633],[2.44,615],[2.44,598],[2.42,580],[2.41,568],[2.38,548],[2.36,528],[2.4,512],[2.47,498],[2.5,480],[2.46,470],[2.35,462],[2.27,452],[2.24,438],[2.25,425],[2.32,415],[2.38,410],[2.3,403],[2.2,395],[2.15,385],[2.12,370],[2.27,361],[2.1,356],[2,345],[2.02,330],[2.05,310],[2.06,295],[2.11,283],[2.13,276],[2.17,264],[2.25,247],[2.48,235],[2.79,226],[2.96,221],[3.1,219],[3.1,199],[2.94,198],[2.61,194],[2.38,185],[2.22,176],[2.2,170],[2.18,164],[2.22,155],[2.3,147],[2.26,138],[2.24,129],[2.26,117],[2.32,106],[2.28,94],[2.2,82],[2.18,70],[2.18,67],[3.1,66],[3.1,59],[2.38,58],[2.4,56],[2.43,53],[2.45,47],[2.4,41],[2.51,38],[2.67,35],[2.72,32],[2.78,29],[2.82,24]]

const BLUE = '#0b63b5'
const RED = '#ff1a1a'
const AXIS = '#8a8a8a'
const TEXT = '#4a4a4a'
const FONT = '"Liberation Sans", Arial, Helvetica, sans-serif'

// panel layout, in page pixels
const panels = [
  { label: 'CH4 (ppm)', domain: [1.902, 2.032], ticks: ch4Ticks, blue: ch4Blue, red: ch4Red, left: 15, right: 152, axisX: 43, plotRight: 143 },
  { label: 'CO2 (ppm)', domain: [399.2, 425], ticks: co2Ticks, blue: co2Blue, red: co2Red, left: 153, right: 289, axisX: 182, plotRight: 281 },
  { label: 'NH3 (ppb)', domain: [3.55, 7], ticks: nh3Ticks, blue: nh3Blue, red: nh3Red, left: 290, right: 432, axisX: 317, plotRight: 418 },
  { label: 'COS (ppb)', domain: [415, 610], ticks: cosTicks, blue: cosBlue, red: cosRed, left: 433, right: 566, axisX: 463, plotRight: 558 },
  { label: 'SO2 (ppb)', domain: [1.66, 4.4], ticks: so2Ticks, blue: so2Blue, red: so2Red, left: 567, right: 707, axisX: 598, plotRight: 704 },
  { label: 'O3 (ppb)', domain: [24.7, 54.2], ticks: o3Ticks, blue: o3Blue, red: o3Red, left: 708, right: 846, axisX: 736, plotRight: 842 },
  { label: 'NOX (ppb)', domain: [4.05, 12.3], ticks: noxTicks, blue: noxBlue, red: noxRed, left: 847, right: 991, axisX: 874, plotRight: 984 },
  { label: 'H2O (ppb)', domain: [1.274, 1.59], ticks: h2oTicks, blue: h2oBlue, red: h2oRed, left: 992, right: 1131, axisX: 1020, plotRight: 1129, exp: true },
  { label: 'PM2.5 (count)', domain: [1.695, 2.94], ticks: pmTicks, blue: pmBlue, red: pmRed, left: 1132, right: 1273, axisX: 1163, plotRight: 1270, exp: true },
]

const toPts = (arr: number[][]) => arr.map(([v, z]) => ({ v, z }))

const YW = 40
const RM = 8
const TOP = 14
const H = 551

function XTick(props: any) {
  const { x, y, payload } = props
  return (
    <g>
      <line x1={x} x2={x} y1={y - 4} y2={y - 7} stroke={AXIS} />
      <text x={x} y={y} dy="0.71em" textAnchor="middle" fontSize={7.5} fill={TEXT} fontFamily={FONT}>{payload.value}</text>
    </g>
  )
}

function YTick(props: any) {
  const { x, y, payload } = props
  return (
    <g>
      <line x1={x + 5} x2={x + 8} y1={y} y2={y} stroke={AXIS} />
      <text x={x} y={y} dy="0.355em" textAnchor="end" fontSize={7.5} fill={TEXT} fontFamily={FONT}>{payload.value}</text>
    </g>
  )
}

const noDot = () => <g />

function Panel({ p }: { p: any }) {
  const w = p.plotRight - p.axisX + YW + RM
  return (
    <>
      <div style={{ position: 'absolute', left: p.left, top: 15, width: p.right - p.left + 1, height: 550, background: '#ebebeb' }} />
      <div style={{ position: 'absolute', left: p.right - 9, top: 15, width: 10, height: 550, background: 'linear-gradient(to right, rgba(0,0,0,0), rgba(0,0,0,0.22))' }} />
      <div style={{ position: 'absolute', left: p.axisX, top: 24, width: p.plotRight - p.axisX, height: 513, background: '#fff' }} />
      <div style={{ position: 'absolute', left: p.axisX - YW, top: TOP }}>
        <ScatterChart width={w} height={H} margin={{ top: 11, right: RM, bottom: 0, left: 0 }}>
          <XAxis type="number" dataKey="v" domain={p.domain} ticks={p.ticks} interval={0} allowDataOverflow
            height={28} tickSize={0} tickMargin={4} tickLine={false} axisLine={{ stroke: AXIS }} tick={<XTick />}>
            <Label value={p.label} position="insideBottom" offset={6} fontSize={8} fill={TEXT} fontFamily={FONT} />
            {p.exp && <Label value="×10⁴" position="insideBottomRight" offset={3} fontSize={7} fill={TEXT} fontFamily={FONT} />}
          </XAxis>
          <YAxis type="number" dataKey="z" domain={[0, 900]} ticks={zTicks} interval={0}
            width={YW} tickSize={0} tickMargin={5} tickLine={false} axisLine={{ stroke: AXIS }} tick={<YTick />}>
            <Label content={() => (
              <text x={23} y={267} transform="rotate(-90 23 267)" textAnchor="middle" fontSize={8} fill={TEXT} fontFamily={FONT}>Z (m)</text>
            )} />
          </YAxis>
          <Scatter data={toPts(p.blue)} fill={BLUE} line={{ stroke: BLUE, strokeWidth: 2 }} shape={noDot} isAnimationActive={false} />
          <Scatter data={toPts(p.red)} fill={RED} line={{ stroke: RED, strokeWidth: 2 }} shape={noDot} isAnimationActive={false} />
        </ScatterChart>
      </div>
    </>
  )
}

export default function App() {
  return (
    <div style={{ position: 'absolute', left: 0, top: 0, width: 1273, height: 569, background: '#fff', overflow: 'hidden' }}>
      <div style={{ position: 'absolute', left: 7, top: 7, width: 1266, height: 562, background: '#000' }} />
      {panels.map((p) => <Panel key={p.label} p={p} />)}
    </div>
  )
}
